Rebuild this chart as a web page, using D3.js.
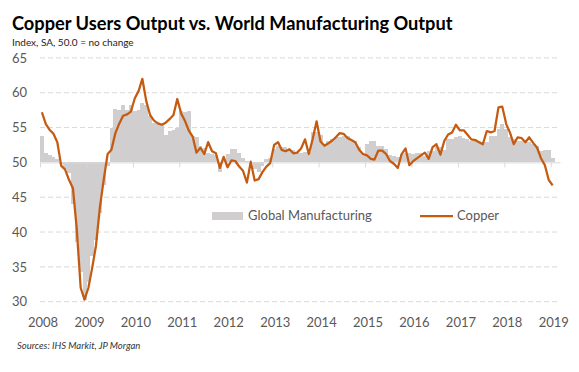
<!DOCTYPE html>
<html lang="en">
<head>
    <meta charset="UTF-8">
    <title>Copper Users Output vs. World Manufacturing Output</title>
    <script src="https://d3js.org/d3.v7.min.js"></script>
    <style>
        body {
            margin: 0;
            background: #fff;
            font-family: Lato, "Liberation Sans", sans-serif;
        }
    </style>
</head>
<body>
<div id="chart"></div>
<script>
    // monthly values, Jan 2008 .. Jan 2019
    var copper = [
        57.2, 55.5, 54.7, 54.1, 52.9, 49.5, 49.0, 47.5, 46.3, 40.5, 32.0, 30.3,
        32.0, 35.0, 38.0, 43.5, 47.5, 51.2, 51.8, 54.2, 55.6, 56.7, 56.9, 57.3,
        59.2, 60.3, 62.0, 58.8, 56.8, 56.0, 55.6, 55.4, 55.7, 56.2, 56.8, 59.1,
        57.0, 55.9, 54.6, 53.7, 51.4, 52.1, 51.2, 52.9, 51.6, 51.3, 49.2, 50.8,
        49.3, 50.3, 50.2, 49.4, 48.8, 47.1, 50.1, 47.4, 47.6, 48.6, 49.4, 49.9,
        52.5, 52.9, 51.8, 51.6, 51.9, 51.3, 51.4, 52.0, 53.3, 51.2, 53.4, 55.9,
        53.0, 52.4, 52.7, 53.1, 53.6, 54.2, 54.1, 53.5, 53.2, 52.9, 51.8, 51.2,
        51.0, 50.5, 50.4, 51.7, 51.7, 51.2, 50.2, 49.8, 49.2, 51.2, 52.0, 49.6,
        50.2, 50.6, 51.0, 51.4, 50.5, 52.2, 52.6, 51.1, 53.1, 54.0, 54.3, 55.4,
        54.6, 54.6, 54.0, 53.3, 53.2, 52.9, 52.6, 54.5, 54.3, 54.5, 57.9, 58.0,
        55.5, 54.2, 52.6, 53.6, 53.5, 52.9, 53.6, 52.8, 52.1, 50.6, 49.6, 47.5,
        46.7
    ];
    var globalMfg = [
        53.8, 51.3, 51.0, 50.8, 50.5, 49.8, 49.0, 48.5, 44.0, 38.5, 34.2, 30.2,
        32.8, 36.6, 38.8, 42.8, 46.7, 49.5, 55.0, 57.7, 57.5, 58.3, 57.5, 58.3,
        57.4, 57.5, 58.5, 58.3, 56.7, 55.7, 55.5, 55.5, 54.0, 54.5, 54.7, 54.9,
        57.4, 57.3, 57.4, 53.8, 53.6, 52.4, 52.0, 51.4, 51.2, 51.0, 48.6, 50.2,
        51.2, 51.9, 51.9, 51.4, 50.7, 50.2, 50.1, 49.0, 48.6, 49.5, 50.5, 50.7,
        51.9, 52.4, 52.2, 52.2, 51.7, 51.8, 51.5, 51.3, 51.5, 51.5, 54.3, 54.3,
        54.0, 52.6, 53.1, 53.3, 53.6, 53.6, 53.8, 53.8, 53.2, 53.0, 52.2, 51.4,
        52.6, 53.1, 53.1, 52.4, 52.4, 51.9, 51.0, 50.9, 50.8, 51.2, 51.4, 51.4,
        51.2, 51.4, 51.4, 50.9, 51.7, 51.7, 52.2, 52.2, 51.8, 53.3, 53.4, 53.6,
        53.8, 53.5, 53.3, 53.1, 53.4, 53.1, 52.9, 52.9, 53.8, 53.8, 54.8, 55.5,
        54.8, 53.6, 53.3, 53.1, 53.1, 52.9, 52.9, 52.6, 52.4, 51.7, 51.8, 51.8,
        50.7
    ];
    var yearLabels = ['2008', '2009', '2010', '2011', '2012', '2013', '2014', '2015', '2016', '2017', '2018', '2019'];
    var yTicks = [30, 35, 40, 45, 50, 55, 60, 65];

    var months = d3.timeMonth.range(new Date(2008, 0, 1), new Date(2019, 1, 1));
    var data = months.map(function(m, i) {
        return {month: m, copper: copper[i], mfg: globalMfg[i]};
    });

    var w = 579, h = 372;
    var gray = '#595959';

    var svg = d3.select('#chart').append('svg')
        .attr('width', w)
        .attr('height', h);

    var xScale = d3.scaleTime()
        .domain([new Date(2008, 0, 1), new Date(2019, 2, 15)])
        .range([40, 560]);
    var yScale = d3.scaleLinear()
        .domain([30, 65])
        .range([301.7, 57.9]);

    // titles
    var title = svg.append('text')
        .attr('x', 12)
        .attr('y', 30)
        .attr('font-size', 18)
        .attr('font-weight', 'bold')
        .attr('fill', '#000')
        .text('Copper Users Output vs. World Manufacturing Output');
    var tw = title.node().getComputedTextLength();
    title.attr('font-size', 18 * 441 / tw);

    svg.append('text')
        .attr('x', 12)
        .attr('y', 46)
        .attr('font-size', 10)
        .attr('fill', '#222')
        .text('Index, SA, 50.0 = no change');

    // gridlines
    svg.append('g').selectAll('line')
        .data(yTicks.filter(function(d) { return d !== 50; }))
        .enter()
        .append('line')
        .attr('x1', 40)
        .attr('x2', 560)
        .attr('y1', function(d) { return yScale(d); })
        .attr('y2', function(d) { return yScale(d); })
        .attr('stroke', '#d9d9d9')
        .attr('stroke-width', 1)
        .attr('stroke-dasharray', '5,3');

    // y axis labels
    var yAxis = d3.axisLeft(yScale).tickValues(yTicks).tickSize(0).tickPadding(0);
    var gy = svg.append('g')
        .attr('transform', 'translate(27,0)')
        .call(yAxis);
    gy.select('.domain').remove();
    gy.selectAll('text')
        .attr('font-family', 'Lato, sans-serif')
        .attr('font-size', 13)
        .attr('fill', gray);

    // bars from 50
    svg.append('g').selectAll('rect')
        .data(data)
        .enter()
        .append('rect')
        .attr('x', function(d) { return xScale(d.month); })
        .attr('width', function(d) { return xScale(d3.timeMonth.offset(d.month, 1)) - xScale(d.month); })
        .attr('y', function(d) { return yScale(Math.max(d.mfg, 50)); })
        .attr('height', function(d) { return Math.abs(yScale(d.mfg) - yScale(50)); })
        .attr('fill', '#d0cece')
        .attr('shape-rendering', 'crispEdges');

    // axis line at 50 with year ticks
    var xAxis = d3.axisBottom(xScale)
        .tickValues(yearLabels.map(function(y) { return new Date(+y, 0, 1); }))
        .tickSize(5)
        .tickSizeOuter(0)
        .tickFormat('');
    var gx = svg.append('g')
        .attr('transform', 'translate(0,' + yScale(50) + ')')
        .call(xAxis);
    gx.select('.domain').attr('stroke', '#d9d9d9');
    gx.selectAll('.tick line').attr('stroke', '#d9d9d9');

    // year labels at bottom
    svg.append('g').selectAll('text')
        .data(yearLabels)
        .enter()
        .append('text')
        .attr('x', function(d) { return xScale(new Date(+d, 0, 1)) + 3; })
        .attr('y', 327)
        .attr('text-anchor', 'middle')
        .attr('font-size', 13)
        .attr('fill', gray)
        .text(function(d) { return d; });

    // copper line
    var line = d3.line()
        .x(function(d) { return xScale(d3.timeDay.offset(d.month, 15)); })
        .y(function(d) { return yScale(d.copper); });
    svg.append('path')
        .datum(data)
        .attr('d', line)
        .attr('fill', 'none')
        .attr('stroke', '#c55a11')
        .attr('stroke-width', 2.25)
        .attr('stroke-linejoin', 'round');

    // legend
    var legend = svg.append('g').attr('id', 'legend');
    legend.append('rect')
        .attr('x', 212)
        .attr('y', 212)
        .attr('width', 31)
        .attr('height', 8)
        .attr('fill', '#d0cece');
    legend.append('text')
        .attr('x', 248)
        .attr('y', 220)
        .attr('font-size', 13)
        .attr('fill', gray)
        .text('Global Manufacturing');
    legend.append('line')
        .attr('x1', 420)
        .attr('x2', 453)
        .attr('y1', 216)
        .attr('y2', 216)
        .attr('stroke', '#c55a11')
        .attr('stroke-width', 2.25);
    legend.append('text')
        .attr('x', 457)
        .attr('y', 220)
        .attr('font-size', 13)
        .attr('fill', gray)
        .text('Copper');

    svg.append('text')
        .attr('x', 17)
        .attr('y', 349)
        .attr('font-size', 9.5)
        .attr('font-style', 'italic')
        .attr('fill', '#333')
        .text('Sources: IHS Markit, JP Morgan');
</script>
</body>
</html>
